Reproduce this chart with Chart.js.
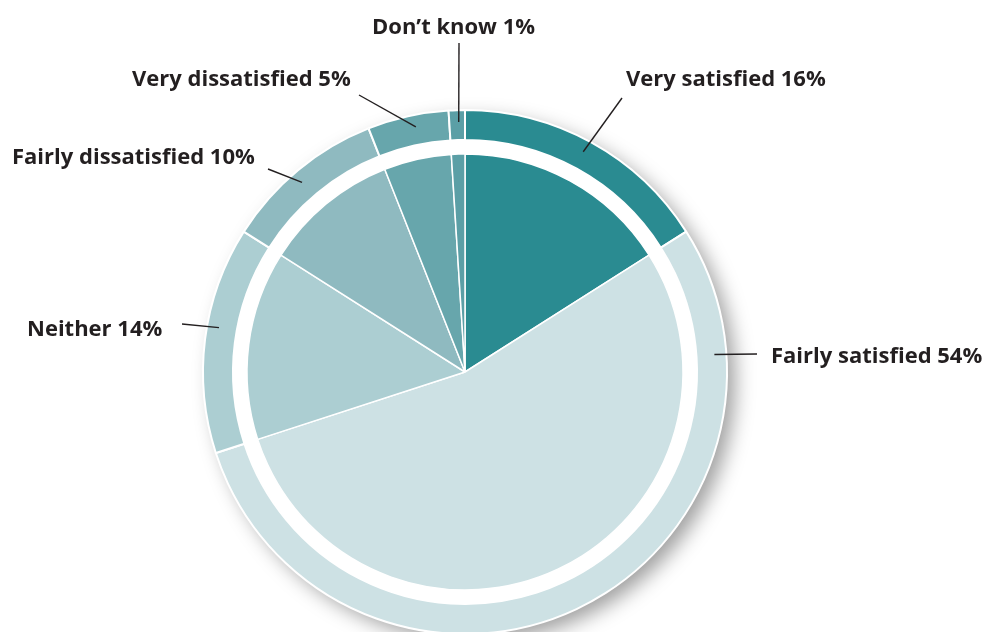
<!DOCTYPE html>
<html>
<head>
<meta charset="utf-8">
<script src="https://cdn.jsdelivr.net/npm/chart.js@4.4.1/dist/chart.umd.min.js"></script>
<style>
  html, body { margin: 0; padding: 0; background: #fff; overflow: hidden; }
  #wrap { width: 985px; height: 632px; overflow: hidden; }
</style>
</head>
<body>
<div id="wrap"><canvas id="pieChart" width="985" height="640"></canvas></div>
<script>
const categories = ["Very satisfied", "Fairly satisfied", "Neither", "Fairly dissatisfied", "Very dissatisfied", "Don\u2019t know"];
const values = [16, 54, 14, 10, 5, 1];
const colors = ["#2a8b91", "#cde1e4", "#acced2", "#8fbac0", "#67a6ac", "#5b9fa6"];

// label placement: text x/baseline, outer end of leader line, where on the arc the line starts (0..1)
const labelLayout = [
    { x: 626, y: 86, ex: 622, ey: 98, t: 0.49 },
    { x: 771, y: 363, ex: 757, ey: 354, t: 0.146 },
    { x: 27, y: 336, ex: 182, ey: 324, t: 0.56 },
    { x: 12, y: 164, ex: 268, ey: 169, t: 0.47 },
    { x: 132, y: 86, ex: 359, ey: 95, t: 0.57 },
    { x: 372, y: 34, ex: 459, ey: 43, t: 0.6 }
];

const shadowPlugin = {
    id: "ringShadow",
    beforeDatasetsDraw(chart) {
        const arc = chart.getDatasetMeta(0).data[0];
        if (!arc) return;
        const ctx = chart.ctx;
        ctx.save();
        ctx.shadowColor = "rgba(0,0,0,0.38)";
        ctx.shadowBlur = 20;
        ctx.shadowOffsetX = 9;
        ctx.shadowOffsetY = 8;
        ctx.fillStyle = "#ffffff";
        ctx.beginPath();
        ctx.arc(arc.x, arc.y, arc.outerRadius - 1, 0, Math.PI * 2);
        ctx.fill();
        ctx.restore();
    }
};

const labelPlugin = {
    id: "calloutLabels",
    afterDatasetsDraw(chart) {
        const ctx = chart.ctx;
        const arcs = chart.getDatasetMeta(0).data;
        ctx.save();
        ctx.font = "bold 22px 'Open Sans'";
        ctx.fillStyle = "#231f20";
        ctx.strokeStyle = "#231f20";
        ctx.lineWidth = 1.4;
        ctx.textBaseline = "alphabetic";
        ctx.textAlign = "left";
        arcs.forEach((arc, i) => {
            const lay = labelLayout[i];
            const a = arc.startAngle + (arc.endAngle - arc.startAngle) * lay.t;
            const r = arc.outerRadius - 12;
            const sx = arc.x + Math.cos(a) * r;
            const sy = arc.y + Math.sin(a) * r;
            ctx.beginPath();
            ctx.moveTo(sx, sy);
            ctx.lineTo(lay.ex, lay.ey);
            ctx.stroke();
            ctx.fillText(categories[i] + " " + values[i] + "%", lay.x, lay.y);
        });
        ctx.restore();
    }
};

const pieCtx = document.getElementById("pieChart").getContext("2d");

new Chart(pieCtx, {
    type: "pie",
    data: {
        labels: categories,
        datasets: [
            {
                data: values,
                backgroundColor: colors,
                borderColor: "#ffffff",
                borderWidth: 2,
                weight: 30
            },
            {
                data: values,
                backgroundColor: "rgba(0,0,0,0)",
                borderWidth: 0,
                weight: 14
            },
            {
                data: values,
                backgroundColor: colors,
                borderColor: "#ffffff",
                borderWidth: 1.5,
                weight: 218
            }
        ]
    },
    options: {
        responsive: false,
        devicePixelRatio: 1,
        animation: false,
        events: [],
        layout: {
            padding: { left: 202, top: 109, right: 257, bottom: 5 }
        },
        plugins: {
            legend: { display: false },
            tooltip: { enabled: false }
        }
    },
    plugins: [shadowPlugin, labelPlugin]
});
</script>
</body>
</html>
